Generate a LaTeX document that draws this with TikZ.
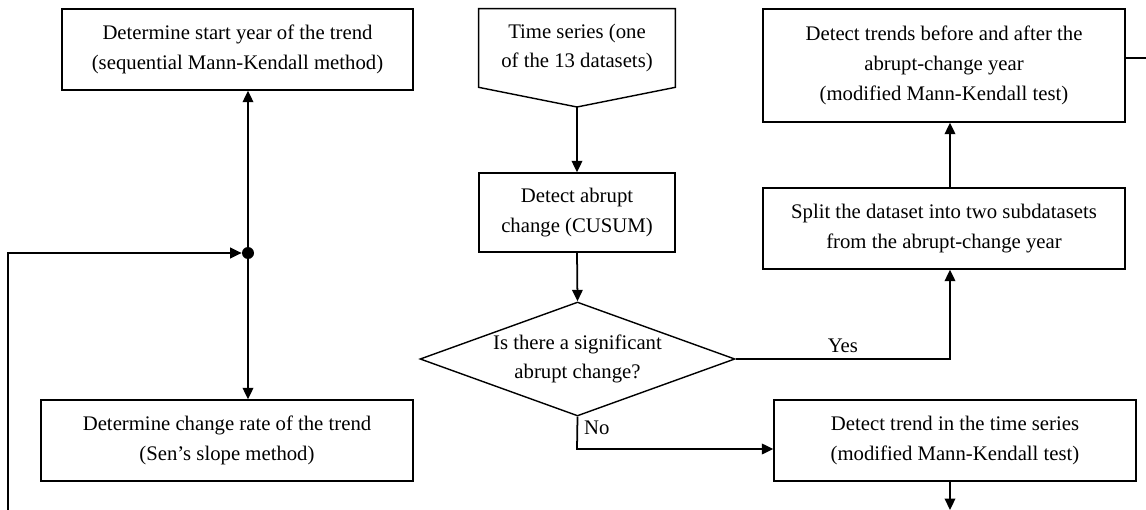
\documentclass[tikz,border=0pt]{standalone}
\usepackage{fontspec}
\setmainfont{Liberation Serif}
\usetikzlibrary{shapes.geometric,arrows.meta}

\tikzset{
  box/.style={draw,line width=0.8pt,align=center,inner sep=0pt},
  arr/.style={line width=1pt,-{Triangle[length=6.5pt,width=6pt]}},
  ln/.style={line width=1pt},
}

\begin{document}
\begin{tikzpicture}[x=0.02cm,y=-0.02cm,font=\fontsize{11.8}{17}\selectfont]
  \useasboundingbox[fill=white] (0,0) rectangle (1146,510);

  % left column
  \node[box,minimum width=7.02cm,minimum height=1.62cm] (start) at (237.5,49.5)
    {Determine start year of the trend\\(sequential Mann-Kendall method)};
  \node[box,minimum width=7.44cm,minimum height=1.62cm] (rate) at (227,440.5)
    {Determine change rate of the trend\\(Sen's slope method)};
  \node[circle,fill,inner sep=0pt,minimum size=0.24cm] (hub) at (248,253) {};
  \coordinate (loop) at (8,510);

  % middle column
  \node[align=center,inner sep=0pt,minimum width=3.92cm,minimum height=1.56cm] (series) at (577,48)
    {Time series (one\\of the 13 datasets)};
  \coordinate (tip) at (577,107);
  \draw[line width=0.8pt] (series.north west) -- (series.north east) -- (series.south east)
    -- (tip) -- (series.south west) -- cycle;
  \node[box,minimum width=3.92cm,minimum height=1.58cm] (cusum) at (577,212.5)
    {Detect abrupt\\change (CUSUM)};
  \node[draw,diamond,line width=0.8pt,align=center,inner sep=0pt,aspect=2.76,
    minimum width=6.3cm,minimum height=2.28cm] (sig) at (577.5,359)
    {Is there a significant\\abrupt change?};

  % right column
  \node[box,minimum width=7.24cm,minimum height=2.26cm] (before) at (944,65.5)
    {Detect trends before and after the\\abrupt-change year\\(modified Mann-Kendall test)};
  \node[box,minimum width=7.24cm,minimum height=1.62cm] (split) at (944,228.5)
    {Split the dataset into two subdatasets\\from the abrupt-change year};
  \node[box,minimum width=7.24cm,minimum height=1.62cm] (trend) at (955,440.5)
    {Detect trend in the time series\\(modified Mann-Kendall test)};

  \coordinate (yesbend) at (950,359);
  \coordinate (nobend) at (577,449);
  \coordinate (exit) at (1146,58);
  \coordinate (out) at (950,510);

  % connectors
  \draw[arr] (tip) -- (cusum.north);
  \draw[arr] (cusum.south) -- (sig.north);
  \draw[arr] (sig.east) -- node[above] {Yes} (yesbend) -- (yesbend |- split.south);
  \draw[arr] (yesbend |- split.north) -- (yesbend |- before.south);
  \draw[ln] (exit -| before.east) -- (exit);
  \draw[arr] (sig.south) -- node[right,pos=0.35] {No} (nobend) -- (trend.west |- nobend);
  \draw[arr] (out |- trend.south) -- (out);
  \draw[arr] (loop) |- (hub.west);
  \draw[arr] (hub) -- (hub |- start.south);
  \draw[arr] (hub) -- (hub |- rate.north);
\end{tikzpicture}
\end{document}
